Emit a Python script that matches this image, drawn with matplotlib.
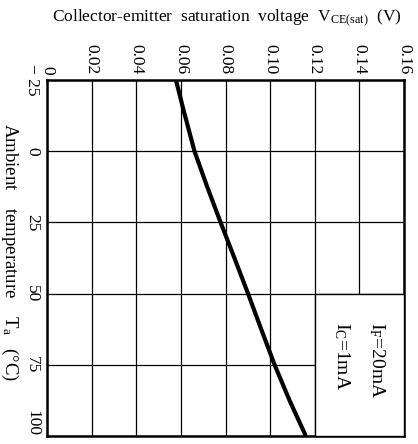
import matplotlib
matplotlib.use("Agg")
import matplotlib.pyplot as plt
from matplotlib.patches import Rectangle

plt.rcParams['font.family'] = ['Liberation Serif', 'DejaVu Serif']
plt.rcParams['mathtext.fontset'] = 'custom'
plt.rcParams['mathtext.rm'] = 'Liberation Serif'
plt.rcParams['mathtext.it'] = 'Liberation Serif:italic'

# Data
temperature = [-25, -15, 0, 12.5, 25, 37.5, 50, 62.5, 75, 87.5, 100]
vce_sat = [0.0578, 0.0610, 0.0661, 0.0718, 0.0778, 0.0840, 0.0901, 0.0960, 0.1020, 0.1087, 0.1160]

x_ticks = [0, 0.02, 0.04, 0.06, 0.08, 0.10, 0.12, 0.14, 0.16]
x_tick_labels = ["0", "0.02", "0.04", "0.06", "0.08", "0.10", "0.12", "0.14", "0.16"]
y_ticks = [-25, 0, 25, 50, 75, 100]
y_tick_labels = ["\u2212 25", "0", "25", "50", "75", "100"]

W, H = 418, 444
fig = plt.figure(figsize=(W / 100, H / 100), dpi=100)
ax = fig.add_axes([47 / W, 1 - 436 / H, (404 - 47) / W, (436 - 80) / H])

ax.set_xlim(0, 0.16)
ax.set_ylim(100, -25)
ax.set_xticks(x_ticks)
ax.set_xticklabels(x_tick_labels)
ax.set_yticks(y_ticks)
ax.set_yticklabels(y_tick_labels)
ax.xaxis.tick_top()
ax.tick_params(axis='x', length=0, pad=4, labelsize=12.5, labelrotation=-90)
ax.tick_params(axis='y', length=0, pad=5, labelsize=12.5, labelrotation=-90)
for lab in ax.get_xticklabels():
    lab.set_verticalalignment('bottom')
ylabs = ax.get_yticklabels()
for lab in ylabs:
    lab.set_verticalalignment('center')
ylabs[-1].set_verticalalignment('bottom')

ax.grid(True, color='black', linewidth=0.9)
ax.set_axisbelow(True)
for s in ax.spines.values():
    s.set_linewidth(1.8)
    s.set_color('black')

ax.plot(vce_sat, temperature, color='black', linewidth=3, zorder=5, solid_capstyle='butt')

# condition box
ax.add_patch(Rectangle((0.12, 50), 0.04, 50, facecolor='white', edgecolor='black',
                       linewidth=1.0, zorder=3, clip_on=False))
ax.text(0.1479, 60.0, r"I$_{\rm F}$=20mA", rotation=-90, ha='center', va='top',
        fontsize=14, zorder=6)
ax.text(0.1322, 60.0, r"I$_{\rm C}$=1mA", rotation=-90, ha='center', va='top',
        fontsize=14, zorder=6)

fig.text(227 / W, 1 - 18 / H, r"Collector-emitter  saturation  voltage  V$_{\rm CE(sat)}$  (V)",
         ha='center', va='center', fontsize=12.5)
fig.text(10 / W, 1 - 252 / H, r"Ambient    temperature    T$_{\rm a}$   (°C)",
         rotation=-90, ha='center', va='center', fontsize=13.5)

fig.savefig("out.png", dpi=100)
